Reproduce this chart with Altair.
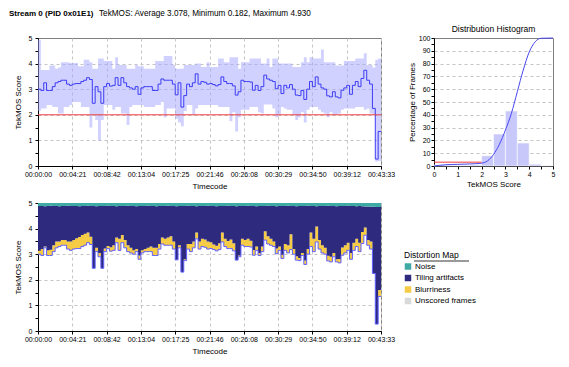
import json
import altair as alt
import pandas as pd

# ---------------- data ----------------
title_bold = "Stream 0 (PID 0x01E1)"
title_rest = "TekMOS: Average 3.078, Minimum 0.182, Maximum 4.930"

duration_s = 2613
tick_labels = ["00:00:00", "00:04:21", "00:08:42", "00:13:04", "00:17:25", "00:21:46",
               "00:26:08", "00:30:29", "00:34:50", "00:39:12", "00:43:33"]
threshold = 2

avg = [3.00, 2.95, 3.25, 2.95, 2.95, 3.10, 3.25, 3.30, 3.35, 3.35,
       3.20, 3.15, 3.20, 3.22, 3.22, 3.30, 3.35, 3.45, 3.38, 2.45,
       3.10, 2.90, 2.45, 3.10, 3.22, 3.12, 3.15, 3.45, 3.15, 3.45,
       3.25, 3.10, 3.05, 3.00, 3.10, 2.80, 3.05, 3.10, 3.10, 3.10,
       2.95, 2.95, 3.20, 3.40, 3.35, 3.35, 3.35, 3.20, 2.78, 3.25,
       2.30, 2.75, 3.20, 3.10, 3.25, 3.60, 3.20, 3.30, 3.27, 3.20,
       3.22, 3.18, 3.13, 3.18, 3.48, 3.30, 3.22, 3.22, 3.13, 2.77,
       2.90, 3.35, 3.30, 3.30, 3.28, 2.96, 3.15, 2.95, 3.10, 3.55,
       3.40, 3.35, 3.30, 3.02, 3.15, 2.83, 3.15, 3.05, 3.18, 3.00,
       2.77, 2.75, 2.95, 2.60, 3.00, 3.30, 3.10, 3.48, 3.20, 3.05,
       3.00, 2.74, 2.70, 2.90, 2.70, 2.66, 2.96, 3.05, 3.15, 2.80,
       3.15, 3.30, 3.10, 3.42, 3.74, 3.35, 3.20, 2.25, 0.27, 1.35]

score_min = [2.15, 2.25, 2.25, 2.38, 2.38, 2.30, 2.30, 2.05, 2.05, 2.30,
             2.30, 2.38, 2.50, 2.50, 2.50, 2.30, 2.30, 2.30, 1.50, 2.00,
             1.80, 1.00, 1.80, 2.38, 2.38, 2.38, 2.20, 2.30, 2.30, 2.05,
             2.05, 1.60, 2.30, 2.38, 2.38, 2.38, 2.38, 2.30, 2.30, 2.30,
             2.30, 2.38, 2.38, 2.50, 1.90, 2.25, 2.25, 2.25, 1.85, 1.70,
             1.55, 2.15, 2.38, 2.38, 2.00, 2.25, 2.38, 2.38, 2.38, 2.38,
             2.38, 2.38, 2.38, 2.30, 2.30, 2.30, 2.30, 1.75, 2.10, 1.35,
             1.90, 2.20, 2.20, 2.20, 2.30, 2.30, 2.30, 2.10, 2.05, 2.40,
             2.40, 2.40, 2.25, 1.90, 2.00, 2.30, 2.25, 2.20, 2.20, 2.00,
             1.80, 1.90, 2.10, 1.70, 2.20, 2.30, 2.30, 2.30, 2.20, 2.10,
             2.05, 1.90, 2.10, 2.00, 2.00, 2.05, 2.20, 2.25, 2.25, 2.25,
             2.25, 2.30, 2.30, 2.30, 2.20, 2.25, 2.05, 2.00, 0.18, 0.20]

score_max = [4.93, 3.75, 3.75, 3.75, 3.93, 3.93, 3.80, 3.85, 4.05, 4.05,
             4.05, 4.02, 4.02, 4.02, 3.90, 3.90, 4.15, 4.15, 4.05, 3.80,
             3.80, 4.20, 4.20, 4.10, 4.10, 4.10, 3.80, 4.25, 3.95, 3.95,
             3.95, 3.80, 3.80, 3.80, 3.95, 3.90, 3.90, 3.80, 3.80, 3.80,
             3.80, 4.10, 4.10, 4.10, 4.30, 4.30, 4.30, 3.95, 3.80, 3.80,
             3.80, 3.95, 3.95, 3.95, 3.95, 4.00, 4.00, 3.87, 3.87, 4.05,
             3.87, 3.87, 3.87, 4.20, 4.20, 4.05, 4.05, 4.25, 4.25, 4.25,
             3.80, 4.05, 4.05, 4.05, 4.20, 4.20, 4.20, 4.20, 4.00, 4.00,
             4.20, 3.87, 4.20, 4.20, 4.00, 4.00, 4.00, 4.00, 4.00, 3.87,
             3.87, 3.87, 4.05, 4.25, 4.05, 4.25, 4.20, 4.20, 4.20, 4.55,
             4.05, 4.05, 4.05, 4.05, 3.93, 3.93, 3.93, 4.10, 4.10, 4.10,
             4.10, 4.20, 4.20, 4.20, 4.40, 3.95, 3.95, 3.85, 4.15, 4.20]

# distortion contributions (score units) for the distortion map
blurriness = [0.13, 0.25, 0.05, 0.20, 0.22, 0.25, 0.25, 0.20, 0.20, 0.20,
              0.30, 0.35, 0.35, 0.40, 0.45, 0.45, 0.45, 0.40, 0.30, 0.00,
              0.15, 0.15, 0.00, 0.12, 0.10, 0.15, 0.20, 0.20, 0.45, 0.30,
              0.30, 0.25, 0.20, 0.15, 0.10, 0.15, 0.10, 0.10, 0.15, 0.20,
              0.30, 0.30, 0.20, 0.25, 0.25, 0.30, 0.35, 0.30, 0.00, 0.10,
              0.00, 0.05, 0.20, 0.30, 0.25, 0.25, 0.30, 0.30, 0.30, 0.30,
              0.25, 0.20, 0.20, 0.25, 0.37, 0.30, 0.30, 0.35, 0.30, 0.00,
              0.05, 0.25, 0.25, 0.30, 0.25, 0.20, 0.15, 0.10, 0.20, 0.35,
              0.30, 0.25, 0.20, 0.20, 0.15, 0.15, 0.25, 0.30, 0.60, 0.20,
              0.15, 0.10, 0.10, 0.15, 0.20, 0.55, 0.50, 0.60, 0.35, 0.30,
              0.25, 0.20, 0.20, 0.15, 0.10, 0.15, 0.30, 0.30, 0.30, 0.25,
              0.30, 0.30, 0.35, 0.45, 0.30, 0.20, 0.30, 0.00, 0.00, 0.25]

noise = [0.12, 0.12, 0.13, 0.12, 0.11, 0.12, 0.12, 0.13, 0.12, 0.12,
         0.11, 0.12, 0.12, 0.12, 0.13, 0.12, 0.12, 0.11, 0.12, 0.12,
         0.13, 0.12, 0.12, 0.12, 0.11, 0.12, 0.12, 0.13, 0.12, 0.12,
         0.12, 0.11, 0.12, 0.12, 0.13, 0.12, 0.12, 0.12, 0.11, 0.12,
         0.12, 0.13, 0.12, 0.12, 0.12, 0.11, 0.12, 0.12, 0.13, 0.12,
         0.12, 0.12, 0.11, 0.12, 0.12, 0.13, 0.12, 0.12, 0.12, 0.11,
         0.12, 0.12, 0.13, 0.12, 0.12, 0.12, 0.11, 0.12, 0.12, 0.13,
         0.12, 0.12, 0.12, 0.11, 0.12, 0.12, 0.13, 0.12, 0.12, 0.12,
         0.11, 0.12, 0.12, 0.13, 0.12, 0.12, 0.12, 0.11, 0.12, 0.12,
         0.13, 0.12, 0.12, 0.12, 0.11, 0.12, 0.12, 0.13, 0.12, 0.12,
         0.12, 0.11, 0.12, 0.12, 0.13, 0.12, 0.12, 0.12, 0.11, 0.12,
         0.12, 0.13, 0.12, 0.13, 0.14, 0.14, 0.15, 0.15, 0.16, 0.16]

hist_bin_start = [0.0, 0.5, 1.0, 1.5, 2.0, 2.5, 3.0, 3.5, 4.0, 4.5]
hist_pct = [0.8, 0.6, 0.6, 1.0, 8.0, 25.0, 43.0, 18.0, 1.5, 0.3]
cdf_score = [0.0, 0.5, 1.0, 1.5, 2.0, 2.25, 2.5, 2.75, 3.0, 3.25, 3.5, 3.75, 4.0, 4.25, 4.5, 5.0]
cdf_pct = [0.0, 1.0, 1.3, 1.6, 2.2, 4.0, 9.0, 17.0, 28.0, 41.0, 58.0, 75.0, 89.0, 97.0, 99.8, 100.0]
below_threshold_pct = 3

categories = ["Noise", "Tiling artifacts", "Blurriness", "Unscored frames"]
cat_colors = ["#3fa9a3", "#2e2a7e", "#f6cb45", "#d9d9d9"]
legend_title = "Distortion Map"

# ---------------- tables ----------------
n = len(avg)
seg = duration_s / n
t = [i * seg for i in range(n)] + [duration_s]


def ext(a):
    return list(a) + [a[-1]]


seg_df = pd.DataFrame({"t": t, "avg": ext(avg), "mn": ext(score_min), "mx": ext(score_max)})

blur_top = [a + b for a, b in zip(avg, blurriness)]
tile_top = [5 - z for z in noise]
rows = []
for i in range(n + 1):
    j = min(i, n - 1)
    rows.append({"t": t[i], "kind": "Blurriness", "lo": avg[j], "hi": blur_top[j]})
    rows.append({"t": t[i], "kind": "Tiling artifacts", "lo": blur_top[j], "hi": tile_top[j]})
    rows.append({"t": t[i], "kind": "Noise", "lo": tile_top[j], "hi": 5})
map_df = pd.DataFrame(rows)

hist_df = pd.DataFrame({"b0": hist_bin_start, "b1": [b + 0.5 for b in hist_bin_start], "pct": hist_pct})
cdf_df = pd.DataFrame({"s": cdf_score, "p": cdf_pct})

# ---------------- styling ----------------
W, H = 343, 128
tick_step = duration_s / 10
FONT = "Liberation Sans"

x_axis = alt.Axis(
    values=[i * tick_step for i in range(11)],
    labelExpr=f"{json.dumps(tick_labels)}[round(datum.value / {tick_step})]",
    labelFlush=False, labelOverlap=False, grid=True, title="Timecode", titlePadding=5, labelPadding=1,
)
score_vals = [i * 0.5 for i in range(11)]
grid_cond = {"condition": {"test": "datum.value % 1 != 0 || datum.value == 0 || datum.value == 5", "value": 0}, "value": 1}
y_axis = alt.Axis(values=score_vals, labelExpr="datum.value % 1 == 0 ? format(datum.value, 'd') : ' '",
                  labelOverlap=False, labelFlush=False, labelBound=False, labelPadding=3,
                  grid=True, gridOpacity=grid_cond, title="TekMOS Score", titlePadding=6)

xq = alt.X("t:Q", scale=alt.Scale(domain=[0, duration_s], nice=False), axis=x_axis)
yscale = alt.Scale(domain=[0, 5], nice=False)

# ---------------- top: score over time ----------------
band = alt.Chart(seg_df).mark_area(interpolate="step-after", color="#a4a4ff", opacity=0.5).encode(
    x=xq,
    y=alt.Y("mn:Q", scale=yscale, axis=y_axis),
    y2="mx:Q",
)
avg_line = alt.Chart(seg_df).mark_line(interpolate="step-after", color="#3c3cf5", strokeWidth=1).encode(
    x=alt.X("t:Q", axis=x_axis), y=alt.Y("avg:Q", axis=y_axis))
thr = alt.Chart(pd.DataFrame({"v": [threshold]})).mark_rule(color="#f03c3c", strokeWidth=1).encode(
    y=alt.Y("v:Q", axis=y_axis))
t1 = alt.Chart(pd.DataFrame({"s": [title_bold]})).mark_text(
    align="left", baseline="top", fontWeight="bold", fontSize=8, font=FONT, color="black"
).encode(text="s:N", x=alt.value(-29), y=alt.value(-28))
t2 = alt.Chart(pd.DataFrame({"s": [title_rest]})).mark_text(
    align="left", baseline="top", fontSize=8.2, font=FONT, color="black"
).encode(text="s:N", x=alt.value(61), y=alt.value(-28))
top = alt.layer(band, avg_line, thr, t1, t2).properties(width=W, height=H)

# ---------------- histogram ----------------
hx_axis = alt.Axis(values=score_vals, labelExpr="datum.value % 1 == 0 ? format(datum.value, 'd') : ' '",
                   labelOverlap=False, labelFlush=False, labelBound=False, labelPadding=1,
                   grid=False, title="TekMOS Score", titlePadding=3)
pct_vals = [i * 5 for i in range(21)]
hgrid = {"condition": {"test": "datum.value % 10 != 0 || datum.value == 0 || datum.value == 100", "value": 0}, "value": 1}
hy_axis = alt.Axis(values=pct_vals, labelExpr="datum.value % 10 == 0 ? format(datum.value, 'd') : ' '",
                   labelOverlap=False, labelFlush=False, labelBound=False,
                   grid=True, gridOpacity=hgrid, title="Percentage of Frames", titlePadding=2, labelPadding=1)
hxs = alt.Scale(domain=[0, 5], nice=False)
hys = alt.Scale(domain=[0, 100], nice=False)
bars = alt.Chart(hist_df).mark_rect(color="#c8c8fb", stroke="white", strokeWidth=0.6).encode(
    x=alt.X("b0:Q", scale=hxs, axis=hx_axis), x2="b1:Q",
    y=alt.Y("pct:Q", scale=hys, axis=hy_axis), y2=alt.datum(0))
cdf = alt.Chart(cdf_df).mark_line(interpolate="monotone", color="#4848f0", strokeWidth=1).encode(
    x=alt.X("s:Q", axis=hx_axis), y=alt.Y("p:Q", axis=hy_axis))
hthr = alt.Chart(pd.DataFrame({"a": [0], "b": [threshold], "p": [below_threshold_pct]})).mark_rule(
    color="#f03c3c", strokeWidth=1).encode(x=alt.X("a:Q", axis=hx_axis), x2="b:Q", y=alt.Y("p:Q", axis=hy_axis))
hist = alt.layer(bars, cdf, hthr).properties(
    width=119, height=H,
    title=alt.Title("Distribution Histogram", fontSize=8.5, fontWeight="normal", font=FONT, offset=1))

# ---------------- distortion map ----------------
areas = alt.Chart(map_df).mark_area(interpolate="step-after").encode(
    x=xq,
    y=alt.Y("lo:Q", scale=yscale, axis=y_axis, stack=None),
    y2="hi:Q",
    color=alt.Color("kind:N", scale=alt.Scale(domain=categories, range=cat_colors),
                    legend=alt.Legend(title="\u00a0\u00a0\u00a0\u00a0" + legend_title, orient="none",
                                      legendX=366, legendY=48,
                                      symbolType="square", symbolSize=42, symbolStrokeWidth=0,
                                      labelFontSize=8, titleFontSize=8.5, titleFontWeight="normal",
                                      rowPadding=3.5, titlePadding=3, labelOffset=3)),
)
map_line = alt.Chart(seg_df).mark_line(interpolate="step-after", color="#6060ff", strokeWidth=1).encode(
    x=alt.X("t:Q", axis=x_axis), y=alt.Y("avg:Q", axis=y_axis))
underline = alt.Chart(pd.DataFrame({"u": [0]})).mark_rule(color="black", strokeWidth=0.8).encode(
    x=alt.value(376), x2=alt.value(431), y=alt.value(58))
bottom = alt.layer(areas, map_line, underline).properties(width=W, height=H)

chart = alt.concat(top, hist, bottom, columns=2, spacing={"row": 37, "column": 53},
                   bounds="flush").resolve_scale(
    x="independent", y="independent", color="independent").resolve_legend(
    color="independent").properties(padding=0)

chart = chart.configure(font=FONT).configure_axis(
    domainColor="black", tickColor="black", labelColor="black", titleColor="black",
    labelFontSize=7, titleFontSize=8, titleFontWeight="normal", labelFont=FONT, titleFont=FONT,
    gridColor="#c4c4c4", gridDash=[3, 3], tickSize=3, labelOverlap=False,
).configure_view(stroke="#808080").configure_legend(labelFont=FONT, titleFont=FONT)

chart.save("out.html", embed_options={"renderer": "svg", "actions": False})
